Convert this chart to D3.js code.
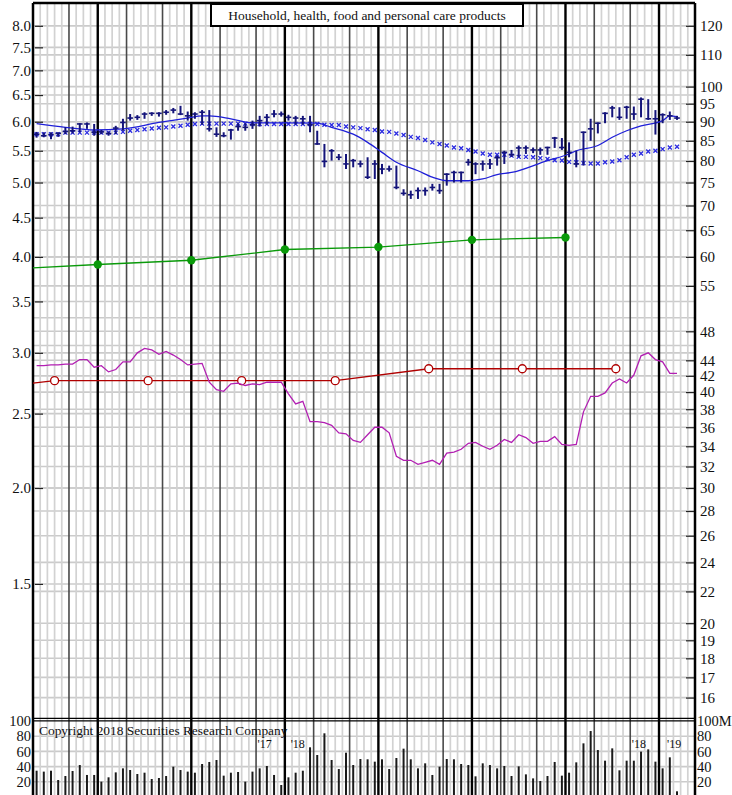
<!DOCTYPE html>
<html>
<head>
<meta charset="utf-8">
<script src="https://cdn.jsdelivr.net/npm/d3@7"></script>
<style>
body { margin: 0; background: #fff; }
text { font-family: "Liberation Serif", "DejaVu Serif", serif; fill: #111; }
</style>
</head>
<body>
<div id="chart"></div>
<script>
// weekly bars, 90 weeks (right-hand price scale)
const weekHigh = [
  87.3, 87.2, 87.2, 87.2, 88.5, 88.7, 89.6, 89.8, 89.4, 87.8,
  87.4, 88.9, 90.8, 92.1, 91.8, 92.6, 92.6, 92.6, 93.2, 93.8,
  94.4, 92.8, 92.6, 93.2, 93.2, 88.5, 87.2, 88.1, 89.6, 89.6,
  90.3, 91.6, 92.1, 93.2, 92.8, 91.9, 91.6, 91.6, 91.6, 87.6,
  84.2, 82.9, 81.7, 81.7, 80.5, 80.1, 80.9, 80.2, 79.3, 78.9,
  78.9, 73.5, 73.2, 73.9, 73.9, 74.7, 74.7, 77.1, 77.7, 77.5,
  80.5, 79.7, 80.1, 80.5, 81.3, 82.5, 82.7, 83.8, 83.8, 83.3,
  83.3, 83.5, 86.0, 85.7, 84.6, 82.5, 87.4, 90.8, 89.8, 92.6,
  94.4, 94.0, 94.4, 94.2, 96.8, 96.3, 93.2, 92.3, 92.8, 91.6
];
const weekLow = [
  85.8, 85.9, 85.4, 86.0, 86.7, 86.9, 87.2, 88.1, 86.3, 86.7,
  86.3, 86.7, 87.6, 90.3, 90.5, 90.8, 91.6, 91.4, 91.9, 92.3,
  91.8, 90.3, 90.8, 89.2, 87.4, 86.0, 85.9, 85.3, 87.6, 87.6,
  88.1, 88.7, 89.2, 91.2, 91.4, 90.3, 89.2, 89.2, 87.2, 84.0,
  78.5, 80.1, 80.2, 78.1, 78.5, 78.5, 75.8, 75.8, 76.9, 77.5,
  73.5, 72.1, 71.4, 71.4, 72.1, 73.2, 72.5, 74.3, 75.0, 75.0,
  78.9, 76.9, 77.7, 78.1, 78.9, 79.3, 81.0, 80.9, 81.7, 81.9,
  81.5, 81.5, 83.2, 82.7, 80.9, 78.5, 78.9, 85.0, 86.9, 89.6,
  91.2, 90.5, 90.8, 90.5, 91.2, 90.5, 86.6, 89.6, 90.5, 90.5
];
const weekClose = [
  86.7, 86.3, 86.6, 86.9, 87.4, 87.6, 89.4, 89.4, 87.2, 87.3,
  86.9, 88.3, 89.8, 91.0, 91.2, 92.1, 92.3, 92.3, 92.6, 93.2,
  92.1, 91.6, 92.1, 92.6, 88.1, 86.7, 86.3, 87.8, 88.7, 88.5,
  89.2, 90.3, 91.2, 92.1, 92.1, 91.2, 91.0, 90.8, 89.2, 84.2,
  79.9, 82.5, 80.9, 79.3, 80.1, 79.3, 76.2, 79.3, 78.1, 78.1,
  73.9, 72.6, 72.3, 73.2, 73.2, 73.9, 73.2, 76.9, 77.3, 77.3,
  79.7, 79.3, 79.3, 79.3, 80.8, 82.1, 81.5, 83.2, 83.2, 82.7,
  82.7, 83.3, 85.7, 83.3, 82.1, 79.3, 87.2, 88.1, 89.6, 92.3,
  93.8, 91.2, 94.0, 92.1, 96.3, 90.8, 90.8, 91.9, 91.6, 91.0
];

// long moving average (x marks), one per week
const slowAvg = [
  86.7, 86.7, 86.7, 86.7, 87.1, 87.1, 87.1, 87.1, 87.1, 87.1,
  87.1, 87.1, 87.3, 87.6, 87.8, 88.0, 88.2, 88.4, 88.5, 88.7,
  88.9, 89.2, 89.4, 89.5, 89.5, 89.5, 89.5, 89.5, 89.5, 89.5,
  89.4, 89.4, 89.4, 89.4, 89.4, 89.4, 89.4, 89.4, 89.4, 89.4,
  89.2, 89.1, 89.1, 88.7, 88.5, 88.3, 88.0, 87.8, 87.4, 87.3,
  86.9, 86.5, 86.0, 85.7, 85.2, 84.6, 84.2, 83.8, 83.3, 83.1,
  82.7, 82.3, 81.8, 81.5, 81.5, 81.5, 81.3, 81.0, 81.0, 80.9,
  80.7, 80.5, 80.2, 80.1, 79.8, 79.7, 79.5, 79.4, 79.4, 79.7,
  79.9, 80.2, 80.9, 81.5, 81.8, 82.3, 82.5, 82.9, 83.3, 83.5
];

// short moving average (solid blue)
const fastWeeks = [0, 4, 8, 12, 17, 21, 23, 24, 27, 30, 34, 39, 41, 44, 46, 48, 50, 53, 55,
  57, 60, 62, 64, 66, 71, 74, 75, 78, 80, 82, 84, 87, 88, 89];
const fastValues = [89.5, 88.5, 87.8, 88.1, 89.8, 91.0, 91.6, 91.6, 90.8, 89.7, 89.7, 89.6, 88.5,
  86.7, 84.6, 82.1, 79.7, 77.7, 76.2, 75.4, 75.4, 75.8, 76.8, 77.3, 80.1, 81.7, 82.5, 83.8,
  85.9, 87.6, 88.9, 90.3, 91.6, 91.4];

// relative strength (magenta), one per week
const relStrength = [
  43.3, 43.3, 43.4, 43.4, 43.5, 43.5, 44.1, 44.1, 43.1, 43.3,
  42.5, 42.8, 43.8, 43.8, 45.0, 45.6, 45.4, 44.8, 45.2, 44.7,
  44.1, 43.4, 43.5, 43.6, 41.2, 40.3, 40.1, 41.0, 41.1, 40.8,
  41.0, 40.9, 41.2, 41.2, 41.2, 39.8, 38.6, 38.9, 36.6, 36.6,
  36.5, 36.2, 35.4, 35.3, 34.6, 34.4, 35.2, 36.0, 36.0, 35.4,
  33.0, 32.6, 32.6, 32.2, 32.4, 32.6, 32.2, 33.3, 33.4, 33.7,
  34.3, 34.4, 34.0, 33.7, 34.1, 34.7, 34.4, 35.2, 34.9, 34.3,
  34.5, 34.5, 35.0, 34.2, 34.1, 34.2, 37.7, 39.5, 39.5, 39.9,
  41.1, 41.6, 41.1, 42.1, 44.6, 45.0, 44.1, 43.8, 42.3, 42.3
];

// weekly volume, millions
const volume = [
  34.6, 33.4, 34.6, 22.4, 27.6, 34.2, 42.1, 29.0, 29.0, 20.2,
  25.9, 32.4, 37.7, 35.5, 30.3, 32.0, 23.7, 25.0, 27.6, 39.9,
  35.5, 33.4, 32.0, 43.4, 46.1, 48.7, 28.1, 32.0, 32.9, 20.2,
  33.4, 37.7, 40.8, 29.0, 15.8, 25.9, 32.0, 34.6, 65.4, 55.3,
  83.8, 48.7, 36.8, 58.3, 42.1, 50.0, 49.6, 46.5, 49.6, 36.8,
  51.3, 63.6, 49.6, 37.7, 44.3, 29.0, 39.9, 50.0, 49.6, 43.4,
  42.1, 27.2, 44.3, 42.1, 37.7, 40.8, 27.6, 40.3, 29.8, 24.5,
  21.1, 27.6, 46.1, 28.1, 32.0, 45.6, 70.6, 86.8, 61.8, 47.8,
  64.0, 35.1, 47.8, 47.8, 59.7, 62.7, 46.5, 37.7, 52.2, 7.5
];

// earnings (green) and dividends (red), left-hand scale
const earnWeeks = [0, 9, 22, 35, 48, 61, 74];
const earnValues = [3.87, 3.91, 3.96, 4.09, 4.12, 4.21, 4.24];
const divWeeks = [0, 3, 16, 29, 42, 55, 68, 81];
const divValues = [2.74, 2.76, 2.76, 2.76, 2.76, 2.86, 2.86, 2.86];

// calendar lines (week boundaries)
const quarterLines = [9, 22, 35, 48, 61, 74, 87];
const monthLines = [5, 13, 18, 26, 31, 39, 44, 52, 57, 65, 70, 78, 83];
const yearLabels = ["'17", "'18", "'18", "'19"];
const yearLabelWeeks = [32.2, 36.8, 84.2, 89.1];

// axis ticks
const rightTicks = [120, 110, 100, 95, 90, 85, 80, 75, 70, 65, 60, 55, 48, 44, 42, 40, 38, 36, 34, 32,
  30, 28, 26, 24, 22, 20, 19, 18, 17, 16];
const rightGridOnly = [50, 46];
const leftTicks = [8.0, 7.5, 7.0, 6.5, 6.0, 5.5, 5.0, 4.5, 4.0, 3.5, 3.0, 2.5, 2.0, 1.5];
const volTicks = [100, 80, 60, 40, 20];

const title = "Household, health, food and personal care products";
const copyright = "Copyright 2018 Securities Research Company";

// layout
const width = 732, height = 795;
const plot = { left: 33, right: 695, top: 3, bottom: 718 };

const svg = d3.select("#chart").append("svg")
    .attr("width", width)
    .attr("height", height);

// scales
const x = d3.scaleLinear().domain([0, 92]).range([plot.left, plot.right]);
const xc = i => x(i + 0.5);
const y = d3.scaleLog().domain([15.05, 128.5]).range([plot.bottom, plot.top]);
const yLeft = d3.scaleLog().domain([15.05 / 15, 128.5 / 15]).range([plot.bottom, plot.top]);
const yVol = d3.scaleLinear().domain([0, 100]).range([797, 721]);

// horizontal grid
const grid = svg.append("g").attr("stroke", "#cbcbcb").attr("stroke-width", 1.6);
rightTicks.concat(rightGridOnly).forEach(v => {
    grid.append("line").attr("x1", plot.left).attr("x2", plot.right).attr("y1", y(v)).attr("y2", y(v));
});
leftTicks.forEach(v => {
    grid.append("line").attr("x1", plot.left).attr("x2", plot.right).attr("y1", yLeft(v)).attr("y2", yLeft(v));
});
volTicks.slice(1).forEach(v => {
    grid.append("line").attr("x1", plot.left).attr("x2", plot.right).attr("y1", yVol(v)).attr("y2", yVol(v));
});

// vertical grid: weeks, months, quarters
svg.append("g").selectAll("line")
    .data(d3.range(1, 92).filter(w => !quarterLines.includes(w) && !monthLines.includes(w)))
    .join("line")
    .attr("x1", d => x(d)).attr("x2", d => x(d))
    .attr("y1", plot.top).attr("y2", height)
    .attr("stroke", "#d2d2d2").attr("stroke-width", 1.7);

svg.append("g").selectAll("line")
    .data(monthLines)
    .join("line")
    .attr("x1", d => x(d)).attr("x2", d => x(d))
    .attr("y1", plot.top).attr("y2", height)
    .attr("stroke", "#4a4a4a").attr("stroke-width", 1.6);

svg.append("g").selectAll("line")
    .data(quarterLines)
    .join("line")
    .attr("x1", d => x(d)).attr("x2", d => x(d))
    .attr("y1", plot.top).attr("y2", height)
    .attr("stroke", "#000").attr("stroke-width", 2.4);

// borders
const border = svg.append("g").attr("stroke", "#000").attr("stroke-width", 2.5);
border.append("line").attr("x1", plot.left).attr("x2", plot.left).attr("y1", plot.top).attr("y2", height);
border.append("line").attr("x1", plot.right).attr("x2", plot.right).attr("y1", plot.top).attr("y2", height);
border.append("line").attr("x1", plot.left).attr("x2", plot.right).attr("y1", plot.top).attr("y2", plot.top);
svg.append("line").attr("x1", plot.left).attr("x2", plot.right).attr("y1", 718.3).attr("y2", 718.3)
    .attr("stroke", "#000").attr("stroke-width", 1.2);
svg.append("line").attr("x1", plot.left).attr("x2", plot.right).attr("y1", 720.8).attr("y2", 720.8)
    .attr("stroke", "#000").attr("stroke-width", 1.2);

// axes
const leftAxis = svg.append("g")
    .attr("transform", `translate(43,0)`)
    .call(d3.axisLeft(yLeft).tickValues(leftTicks).tickFormat(d3.format(".1f")).tickSize(8).tickPadding(4));
const rightAxis = svg.append("g")
    .attr("transform", `translate(686,0)`)
    .call(d3.axisRight(y).tickValues(rightTicks).tickFormat(d3.format("d")).tickSize(8).tickPadding(6));
const volLeft = svg.append("g")
    .attr("transform", `translate(31,0)`)
    .call(d3.axisLeft(yVol).tickValues(volTicks).tickSize(0).tickPadding(0));
const volRight = svg.append("g")
    .attr("transform", `translate(697,0)`)
    .call(d3.axisRight(yVol).tickValues(volTicks).tickFormat(d => d === 100 ? "100M" : d).tickSize(0).tickPadding(0));

[leftAxis, rightAxis].forEach(g => {
    g.select(".domain").remove();
    g.selectAll(".tick line").attr("stroke", "#222").attr("stroke-width", 1.2);
    g.selectAll("text").attr("font-size", 15).attr("font-family", null).attr("fill", "#111");
});
[volLeft, volRight].forEach(g => {
    g.select(".domain").remove();
    g.selectAll("text").attr("font-size", 14.5).attr("font-family", null).attr("fill", "#111");
});

// volume bars
svg.append("g").selectAll("line")
    .data(volume)
    .join("line")
    .attr("x1", (d, i) => xc(i)).attr("x2", (d, i) => xc(i))
    .attr("y1", yVol(0)).attr("y2", d => yVol(d))
    .attr("stroke", "#1a1a1a").attr("stroke-width", 2);

// earnings line and dots
svg.append("path")
    .datum(earnWeeks.map((w, i) => [w, earnValues[i]]))
    .attr("fill", "none").attr("stroke", "#0a9a0a").attr("stroke-width", 1.3)
    .attr("d", d3.line().x(d => x(d[0])).y(d => yLeft(d[1])));
svg.append("g").selectAll("circle")
    .data(earnWeeks.slice(1).map((w, i) => [w, earnValues[i + 1]]))
    .join("circle")
    .attr("cx", d => x(d[0])).attr("cy", d => yLeft(d[1])).attr("r", 4.2)
    .attr("fill", "#0a9a0a");

// dividends line and circles
svg.append("path")
    .datum(divWeeks.map((w, i) => [w, divValues[i]]))
    .attr("fill", "none").attr("stroke", "#b00000").attr("stroke-width", 1.3)
    .attr("d", d3.line().x(d => x(d[0])).y(d => yLeft(d[1])));
svg.append("g").selectAll("circle")
    .data(divWeeks.slice(1).map((w, i) => [w, divValues[i + 1]]))
    .join("circle")
    .attr("cx", d => x(d[0])).attr("cy", d => yLeft(d[1])).attr("r", 4)
    .attr("fill", "#fff").attr("stroke", "#b00000").attr("stroke-width", 1.3);

// relative strength
svg.append("path")
    .datum(relStrength)
    .attr("fill", "none").attr("stroke", "#b21fb2").attr("stroke-width", 1.3)
    .attr("d", d3.line().x((d, i) => xc(i)).y(d => y(d)));

// slow average as x marks
svg.append("g").selectAll("path")
    .data(slowAvg)
    .join("path")
    .attr("transform", (d, i) => `translate(${xc(i)},${y(d)})`)
    .attr("d", "M-2,-2L2,2M-2,2L2,-2")
    .attr("stroke", "#2a2ae0").attr("stroke-width", 1.3);

// fast average line
svg.append("path")
    .datum(fastWeeks.map((w, i) => [w, fastValues[i]]))
    .attr("fill", "none").attr("stroke", "#1f1fd8").attr("stroke-width", 1.3)
    .attr("d", d3.line().curve(d3.curveMonotoneX).x(d => xc(d[0])).y(d => y(d[1])));

// weekly high-low-close bars
const bars = svg.append("g").attr("stroke", "#14147a");
weekHigh.forEach((h, i) => {
    bars.append("line")
        .attr("x1", xc(i)).attr("x2", xc(i))
        .attr("y1", y(h)).attr("y2", y(weekLow[i]))
        .attr("stroke-width", 2);
    bars.append("line")
        .attr("x1", xc(i) - 2.8).attr("x2", xc(i) + 2.8)
        .attr("y1", y(weekClose[i])).attr("y2", y(weekClose[i]))
        .attr("stroke-width", 1.6);
});

// title box
svg.append("rect")
    .attr("x", 211).attr("y", 4).attr("width", 312).attr("height", 22)
    .attr("fill", "#fff").attr("stroke", "#000").attr("stroke-width", 2);
svg.append("text")
    .attr("x", 367).attr("y", 20)
    .attr("text-anchor", "middle").attr("font-size", 13.5)
    .text(title);

// copyright and year marks
svg.append("text")
    .attr("x", 39).attr("y", 735)
    .attr("font-size", 13.4)
    .text(copyright);
svg.append("g").selectAll("text")
    .data(yearLabels)
    .join("text")
    .attr("x", (d, i) => x(yearLabelWeeks[i])).attr("y", 748)
    .attr("text-anchor", "middle").attr("font-size", 12)
    .text(d => d);
</script>
</body>
</html>
